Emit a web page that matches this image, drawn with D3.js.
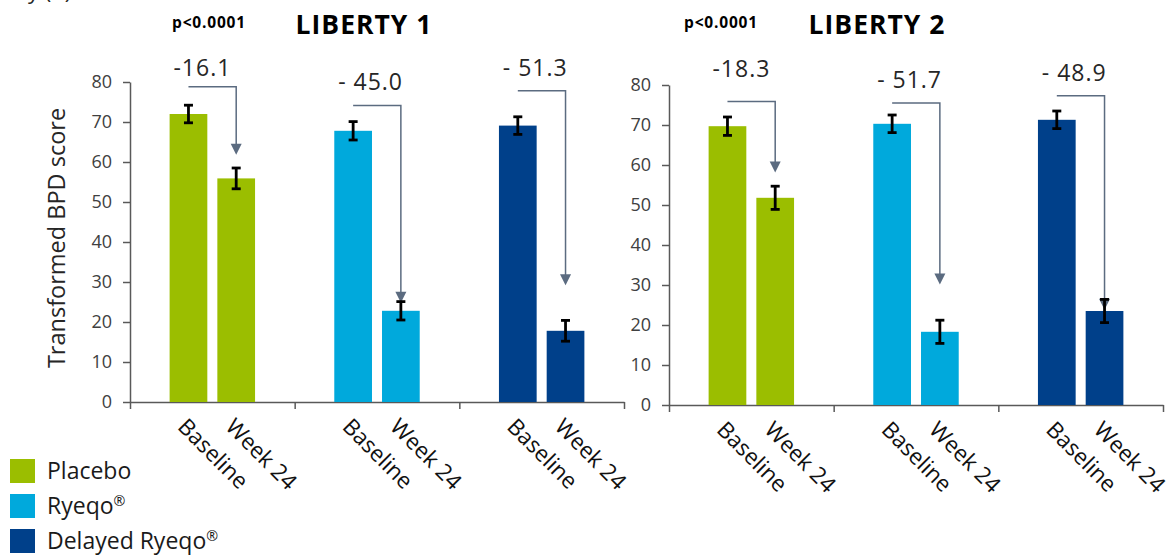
<!DOCTYPE html>
<html>
<head>
<meta charset="utf-8">
<script src="https://cdn.jsdelivr.net/npm/d3@7"></script>
<style>
  html, body { margin: 0; padding: 0; background: #fff; }
  svg { display: block; font-family: "Open Sans", "Noto Sans", sans-serif; }
</style>
</head>
<body>
<svg id="chart" width="1174" height="557"></svg>
<script>
// Treatment arms and time points
const groups = ["Placebo", "Ryeqo®", "Delayed Ryeqo®"];
const timepoints = ["Baseline", "Week 24"];
const yTicks = [0, 10, 20, 30, 40, 50, 60, 70, 80];

// LIBERTY 1 – transformed BPD score (mean ± error)
const liberty1Baseline = [72.0, 67.8, 69.1];
const liberty1Week24 = [55.9, 22.8, 17.8];
const liberty1BaselineErr = [2.2, 2.3, 2.2];
const liberty1Week24Err = [2.6, 2.3, 2.6];
const liberty1Change = ["-16.1", "- 45.0", "- 51.3"];

// LIBERTY 2 – transformed BPD score (mean ± error)
const liberty2Baseline = [69.7, 70.3, 71.3];
const liberty2Week24 = [51.8, 18.3, 23.5];
const liberty2BaselineErr = [2.3, 2.2, 2.2];
const liberty2Week24Err = [2.9, 2.9, 2.9];
const liberty2Change = ["-18.3", "- 51.7", "- 48.9"];

const pValueText = "p<0.0001";
const yAxisTitle = "Transformed BPD score";

const colors = ["#9BBE00", "#00A9DC", "#00408A"];
const arrowColor = "#5B6B80";
const axisColor = "#595959";

// Panel layout: plot frame, title placement and change-arrow geometry
const panels = [
  {
    title: "LIBERTY 1",
    baseline: liberty1Baseline, week24: liberty1Week24,
    baseErr: liberty1BaselineErr, weekErr: liberty1Week24Err,
    change: liberty1Change,
    x0: 130, x1: 624, yBottom: 402, yTop: 82,
    titleX: 364, pX: 209,
    arrowFrom: [78.8, 74.1, 77.8], arrowTo: [61.8, 24.8, 29.2],
    labelY: [76, 90, 76]
  },
  {
    title: "LIBERTY 2",
    baseline: liberty2Baseline, week24: liberty2Week24,
    baseErr: liberty2BaselineErr, weekErr: liberty2Week24Err,
    change: liberty2Change,
    x0: 669, x1: 1163, yBottom: 405, yTop: 85,
    titleX: 877, pX: 721,
    arrowFrom: [75.9, 75.5, 77.3], arrowTo: [58.1, 30.1, 23.8],
    labelY: [77, 88, 81]
  }
];

const svg = d3.select("#chart");

// Tail of the caption running above the figure
svg.append("text")
  .attr("x", 28).attr("y", -1)
  .attr("font-size", 22).attr("fill", "#262626")
  .text("y (b)");

// Writes a name with its ® sign set as a small superscript
function withMark(sel, size) {
  sel.each(function (d) {
    const t = d3.select(this);
    const parts = d.split("®");
    t.append("tspan").text(parts[0]);
    if (parts.length > 1) {
      t.append("tspan").attr("font-size", size * 0.62).attr("dy", -size * 0.36).text("®");
    }
  });
}

panels.forEach(p => {
  const g = svg.append("g");

  const y = d3.scaleLinear().domain([0, 80]).range([p.yBottom, p.yTop]);
  const xGroup = d3.scaleBand().domain(groups).range([p.x0, p.x1]).padding(0);
  const xTime = d3.scaleBand().domain(timepoints)
    .range([0, xGroup.bandwidth()])
    .paddingInner(0.21).paddingOuter(0.83);
  const xBoundary = d3.scaleLinear().domain([0, groups.length]).range([p.x0, p.x1]);

  // Y axis
  const yAxis = g.append("g")
    .attr("transform", `translate(${p.x0},0)`)
    .call(d3.axisLeft(y).tickValues(yTicks).tickSize(7).tickSizeOuter(0).tickPadding(11));
  yAxis.selectAll("path, line").attr("stroke", axisColor).attr("stroke-width", 1.5);
  yAxis.selectAll("text").attr("font-size", 18).attr("fill", "#404040")
    .attr("font-family", "Open Sans");

  // X axis with ticks on group boundaries
  const xAxis = g.append("g")
    .attr("transform", `translate(0,${p.yBottom})`)
    .call(d3.axisBottom(xBoundary).tickValues(d3.range(groups.length + 1))
      .tickFormat("").tickSize(7).tickSizeOuter(0));
  xAxis.selectAll("path, line").attr("stroke", axisColor).attr("stroke-width", 1.5);

  // Bars
  const rows = [];
  groups.forEach((grp, i) => {
    rows.push({ grp, i, t: "Baseline", v: p.baseline[i], e: p.baseErr[i] });
    rows.push({ grp, i, t: "Week 24", v: p.week24[i], e: p.weekErr[i] });
  });
  const cx = d => xGroup(d.grp) + xTime(d.t) + xTime.bandwidth() / 2;

  g.selectAll("rect.bar").data(rows).join("rect")
    .attr("class", "bar")
    .attr("x", d => xGroup(d.grp) + xTime(d.t))
    .attr("width", xTime.bandwidth())
    .attr("y", d => y(d.v))
    .attr("height", d => y(0) - y(d.v))
    .attr("fill", d => colors[d.i]);

  // Category labels, rotated
  g.selectAll("text.cat").data(rows).join("text")
    .attr("class", "cat")
    .attr("transform", d => `translate(${cx(d) - 12},${p.yBottom + 26}) rotate(45)`)
    .attr("font-size", 22.5).attr("fill", "#111")
    .text(d => d.t);

  // Change arrows: from above baseline bar, across, then down to week 24
  const arrows = g.selectAll("g.arrow").data(groups).join("g").attr("class", "arrow");
  arrows.append("path")
    .attr("fill", "none").attr("stroke", arrowColor).attr("stroke-width", 1.5)
    .attr("d", (grp, i) => {
      const xa = xGroup(grp) + xTime("Baseline") + xTime.bandwidth() / 2;
      const xb = xGroup(grp) + xTime("Week 24") + xTime.bandwidth() / 2;
      return `M${xa},${y(p.arrowFrom[i])}H${xb}V${y(p.arrowTo[i]) - 10}`;
    });
  arrows.append("path")
    .attr("fill", arrowColor)
    .attr("d", (grp, i) => {
      const xb = xGroup(grp) + xTime("Week 24") + xTime.bandwidth() / 2;
      const tip = y(p.arrowTo[i]);
      return `M${xb - 5.5},${tip - 11}L${xb + 5.5},${tip - 11}L${xb},${tip}Z`;
    });

  // Change values
  g.selectAll("text.change").data(groups).join("text")
    .attr("class", "change")
    .attr("x", grp => xGroup(grp) + xTime("Baseline") + xTime.bandwidth() / 2 - 15)
    .attr("y", (grp, i) => p.labelY[i])
    .attr("font-size", 23).attr("letter-spacing", 1).attr("fill", "#262626")
    .text((grp, i) => p.change[i]);

  // Error bars
  const eb = g.selectAll("g.err").data(rows).join("g").attr("class", "err")
    .attr("stroke", "#000").attr("stroke-width", 2.8);
  eb.append("line")
    .attr("x1", cx).attr("x2", cx)
    .attr("y1", d => y(d.v + d.e)).attr("y2", d => y(d.v - d.e));
  eb.append("line")
    .attr("x1", d => cx(d) - 4.5).attr("x2", d => cx(d) + 4.5)
    .attr("y1", d => y(d.v + d.e)).attr("y2", d => y(d.v + d.e));
  eb.append("line")
    .attr("x1", d => cx(d) - 4.5).attr("x2", d => cx(d) + 4.5)
    .attr("y1", d => y(d.v - d.e)).attr("y2", d => y(d.v - d.e));

  // Titles
  g.append("text")
    .attr("x", p.titleX).attr("y", 34).attr("text-anchor", "middle")
    .attr("font-size", 26.5).attr("font-weight", 700).attr("letter-spacing", 1)
    .attr("fill", "#000").text(p.title);
  g.append("text")
    .attr("x", p.pX).attr("y", 28).attr("text-anchor", "middle")
    .attr("font-size", 15.5).attr("font-weight", 700).attr("letter-spacing", 0.8)
    .attr("fill", "#000").text(pValueText);
});

// Y axis title
svg.append("text")
  .attr("transform", "translate(65,238) rotate(-90)")
  .attr("text-anchor", "middle")
  .attr("font-size", 23.5).attr("fill", "#262626")
  .text(yAxisTitle);

// Legend
const legend = svg.append("g").attr("transform", "translate(10,459)");
const items = legend.selectAll("g").data(groups).join("g")
  .attr("transform", (d, i) => `translate(0,${i * 35})`);
items.append("rect")
  .attr("width", 25).attr("height", 24)
  .attr("fill", (d, i) => colors[i]);
items.append("text")
  .attr("x", 37).attr("y", 20)
  .attr("font-size", 23).attr("fill", "#1a1a1a")
  .call(withMark, 23);
</script>
</body>
</html>
